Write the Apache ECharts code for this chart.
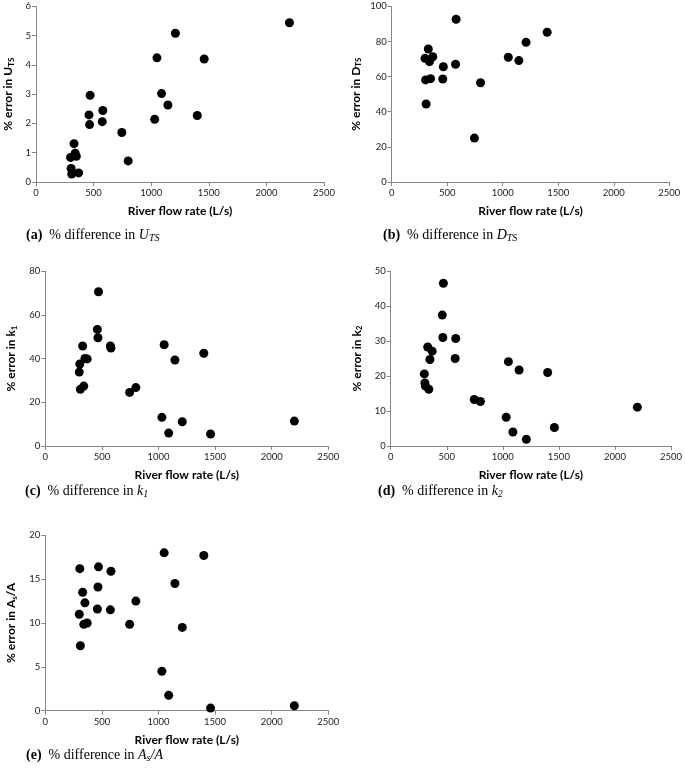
<!DOCTYPE html>
<html>
<head>
<meta charset="utf-8">
<script src="https://cdn.jsdelivr.net/npm/echarts@6/dist/echarts.min.js"></script>
<style>html,body{margin:0;padding:0;background:#fff;}#c{width:685px;height:768px;}</style>
</head>
<body>
<div id="c"></div>
<script>
// Shared x values (River flow rate, L/s)
const flow = [300, 305, 310, 330, 340, 350, 370, 460, 465, 470, 575, 580, 745, 800, 1030, 1050, 1090, 1145, 1210, 1400, 1460, 2200];
// (a) % error in U_TS
const errU = [0.84, 0.46, 0.27, 1.31, 0.98, 0.88, 0.31, 2.29, 1.96, 2.96, 2.06, 2.44, 1.69, 0.72, 2.14, 4.24, 3.02, 2.63, 5.08, 2.27, 4.20, 5.44];
// (b) % error in D_TS (null = not shown)
const errD = [70.4, 58.1, 44.4, 75.7, 68.5, 58.8, 71.3, 58.6, 65.6, null, 67.0, 92.6, 25.0, 56.5, null, 71.0, null, 69.1, 79.5, 85.2, null, null];
// (c) % error in k1
const errK1 = [33.8, 37.5, 25.9, 45.7, 27.4, 40.0, 39.8, 53.3, 49.5, 70.5, 45.7, 44.8, 24.5, 26.7, 13.1, 46.3, 5.9, 39.3, 11.1, 42.4, 5.5, 11.4];
// (d) % error in k2
const errK2 = [20.6, 18.0, 17.1, 28.3, 16.2, 24.7, 27.1, 37.4, 31.0, 46.5, 25.0, 30.7, 13.3, 12.7, 8.2, 24.1, 4.0, 21.7, 1.9, 21.0, 5.3, 11.1];
// (e) % error in As/A
const errAs = [11.0, 16.2, 7.4, 13.5, 9.85, 12.3, 10.0, 11.6, 14.1, 16.4, 11.5, 15.9, 9.85, 12.5, 4.5, 18.0, 1.75, 14.5, 9.5, 17.7, 0.3, 0.57];

const xTitle = 'River flow rate (L/s)';
const yMax = [6, 100, 80, 50, 20];
const yStep = [1, 20, 20, 10, 5];
const yNames = ['% error in U{sub|TS}', '% error in D{sub|TS}', '% error in k{sub|1}', '% error in k{sub|2}', '% error in A{sub|s}/A'];
const captions = [
  ['(a)', 'U', 'TS'],
  ['(b)', 'D', 'TS'],
  ['(c)', 'k', '1'],
  ['(d)', 'k', '2'],
  ['(e)', 'A', 's', '/A']
];
const seriesList = [errU, errD, errK1, errK2, errAs];

// layout
const grids = [
  {left: 34.3, top: 6.3, width: 289.7, height: 175.7},
  {left: 391.7, top: 6.3, width: 277.6, height: 175.7},
  {left: 45.3, top: 271, width: 283, height: 175},
  {left: 390.7, top: 271, width: 282.3, height: 175},
  {left: 45.3, top: 535.3, width: 283, height: 175.4}
];
const yNameGap = [21, 29, 27, 27, 27];
const xNameGap = [23, 23, 23, 23, 23];
const capPos = [[26, 235], [383, 235], [25, 491], [378, 491], [26, 755]];

const axisColor = '#868686';
const labelFont = 'Lato';

const option = {
  animation: false,
  backgroundColor: '#fff',
  grid: grids.map(g => Object.assign({containLabel: false}, g)),
  xAxis: grids.map((g, i) => ({
    gridIndex: i, type: 'value', min: 0, max: 2500, interval: 500,
    name: xTitle, nameLocation: 'middle', nameGap: xNameGap[i],
    nameTextStyle: {fontFamily: labelFont, fontWeight: 'bold', fontSize: 12, color: '#000'},
    axisLine: {show: true, lineStyle: {color: axisColor, width: 1}},
    axisTick: {show: true, length: 4, lineStyle: {color: axisColor}},
    axisLabel: {fontFamily: labelFont, fontSize: 9.5, color: '#222', margin: 6, formatter: v => String(v)},
    splitLine: {show: false}
  })),
  yAxis: grids.map((g, i) => ({
    gridIndex: i, type: 'value', min: 0, max: yMax[i], interval: yStep[i],
    name: yNames[i], nameLocation: 'middle', nameGap: yNameGap[i], nameRotate: 90,
    nameTextStyle: {
      fontFamily: labelFont, fontWeight: 'bold', fontSize: 12, color: '#000', lineHeight: 14,
      rich: {sub: {fontFamily: labelFont, fontWeight: 'bold', fontSize: 8, color: '#000', verticalAlign: 'bottom', lineHeight: 8}}
    },
    axisLine: {show: true, lineStyle: {color: axisColor, width: 1}},
    axisTick: {show: true, length: 4, lineStyle: {color: axisColor}},
    axisLabel: {fontFamily: labelFont, fontSize: 9.5, color: '#222', margin: 5, formatter: v => String(v)},
    splitLine: {show: false}
  })),
  series: seriesList.map((vals, i) => ({
    type: 'scatter', xAxisIndex: i, yAxisIndex: i,
    symbol: 'circle', symbolSize: 9,
    itemStyle: {color: '#000', opacity: 1},
    emphasis: {disabled: true},
    data: flow.map((f, j) => vals[j] == null ? null : [f, vals[j]]).filter(d => d)
  })),
  graphic: captions.map((c, i) => {
    let txt = '{b|' + c[0] + '}{n|  % difference in }{i|' + c[1] + '}{s|' + c[2] + '}';
    if (c[3]) txt += '{i|' + c[3] + '}';
    return {
      type: 'text', x: capPos[i][0], y: capPos[i][1],
      style: {
        text: txt, fill: '#000', verticalAlign: 'middle', align: 'left',
        rich: {
          b: {fontFamily: 'Liberation Serif', fontWeight: 'bold', fontSize: 14, fill: '#000', lineHeight: 17},
          n: {fontFamily: 'Liberation Serif', fontSize: 14, fill: '#000', lineHeight: 17},
          i: {fontFamily: 'Liberation Serif', fontStyle: 'italic', fontSize: 14, fill: '#000', lineHeight: 17},
          s: {fontFamily: 'Liberation Serif', fontStyle: 'italic', fontSize: 10, fill: '#000', verticalAlign: 'bottom', lineHeight: 9}
        }
      }
    };
  })
};

const chart = echarts.init(document.getElementById('c'), null, {renderer: 'canvas'});
chart.setOption(option);
</script>
</body>
</html>
